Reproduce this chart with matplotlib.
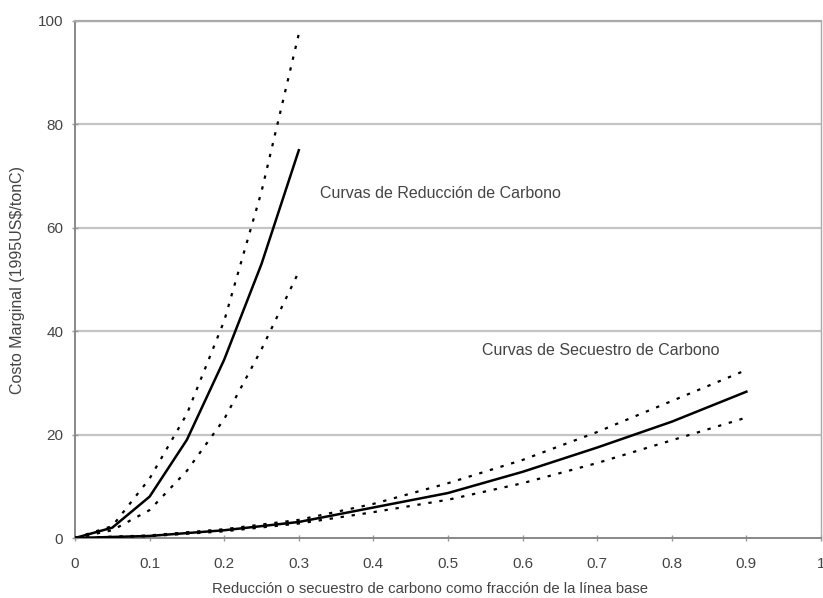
import matplotlib
matplotlib.use("Agg")
import matplotlib.pyplot as plt

# Reduction curves (carbon abatement)
red_x = [0.0, 0.05, 0.10, 0.15, 0.20, 0.25, 0.30]
red_mid = [0.0, 2.0, 8.0, 19.0, 34.5, 53.0, 75.0]
red_high = [0.0, 2.3, 11.5, 24.0, 42.0, 67.0, 97.5]
red_low = [0.0, 1.5, 5.4, 13.0, 23.0, 36.5, 51.5]

# Sequestration curves
seq_x = [0.0, 0.1, 0.2, 0.3, 0.4, 0.5, 0.6, 0.7, 0.8, 0.9]
seq_mid = [0.0, 0.4, 1.5, 3.1, 5.9, 8.7, 12.8, 17.5, 22.5, 28.3]
seq_high = [0.0, 0.5, 1.7, 3.5, 6.6, 10.6, 15.1, 20.5, 26.5, 32.5]
seq_low = [0.0, 0.35, 1.3, 2.8, 5.0, 7.4, 10.6, 14.5, 18.9, 23.3]

x_ticks = [0, 0.1, 0.2, 0.3, 0.4, 0.5, 0.6, 0.7, 0.8, 0.9, 1]
x_labels = ["0", "0.1", "0.2", "0.3", "0.4", "0.5", "0.6", "0.7", "0.8", "0.9", "1"]
y_ticks = [0, 20, 40, 60, 80, 100]

plt.rcParams['font.family'] = ['Liberation Sans', 'DejaVu Sans']
txt = '#444444'

fig = plt.figure(figsize=(8.23, 5.98), dpi=100)
ax = fig.add_axes([75/823, 60/598, 746/823, 517/598])

for y in y_ticks[1:]:
    ax.axhline(y, color='#c4c4c4', lw=1.6, zorder=0)

dot = (0, (1.5, 3.5))
ax.plot(red_x, red_mid, color='black', lw=1.8, zorder=3)
ax.plot(red_x, red_high, color='black', lw=1.6, ls=dot, zorder=3)
ax.plot(red_x, red_low, color='black', lw=1.6, ls=dot, zorder=3)
ax.plot(seq_x, seq_mid, color='black', lw=1.8, zorder=3)
ax.plot(seq_x, seq_high, color='black', lw=1.6, ls=dot, zorder=3)
ax.plot(seq_x, seq_low, color='black', lw=1.6, ls=dot, zorder=3)

ax.text(0.328, 66.7, "Curvas de Reducción de Carbono", fontsize=11.5, color=txt, va='center', ha='left')
ax.text(0.546, 36.3, "Curvas de Secuestro de Carbono", fontsize=11.5, color=txt, va='center', ha='left')

ax.set_xlim(0, 1)
ax.set_ylim(0, 100)
ax.set_xticks(x_ticks)
ax.set_xticklabels(x_labels)
ax.set_yticks(y_ticks)
ax.tick_params(axis='both', direction='inout', length=5, width=1, color='#999999',
               labelsize=11, labelcolor=txt, pad=6)
ax.tick_params(axis='x', pad=11)

for s in ['left', 'bottom']:
    ax.spines[s].set_color('#888888')
    ax.spines[s].set_linewidth(1.4)
ax.spines['right'].set_color('#aaaaaa')
ax.spines['right'].set_linewidth(1.0)
ax.spines['top'].set_color('#aaaaaa')
ax.spines['top'].set_linewidth(1.6)

fig.text(430/823, 1 - 589/598, "Reducción o secuestro de carbono como fracción de la línea base",
         fontsize=10.7, color=txt, ha='center', va='center')
fig.text(18/823, 1 - 280/598, "Costo Marginal (1995US$/tonC)", fontsize=11.5,
         color=txt, rotation=90, ha='center', va='center')

fig.savefig("out.png", dpi=100)
